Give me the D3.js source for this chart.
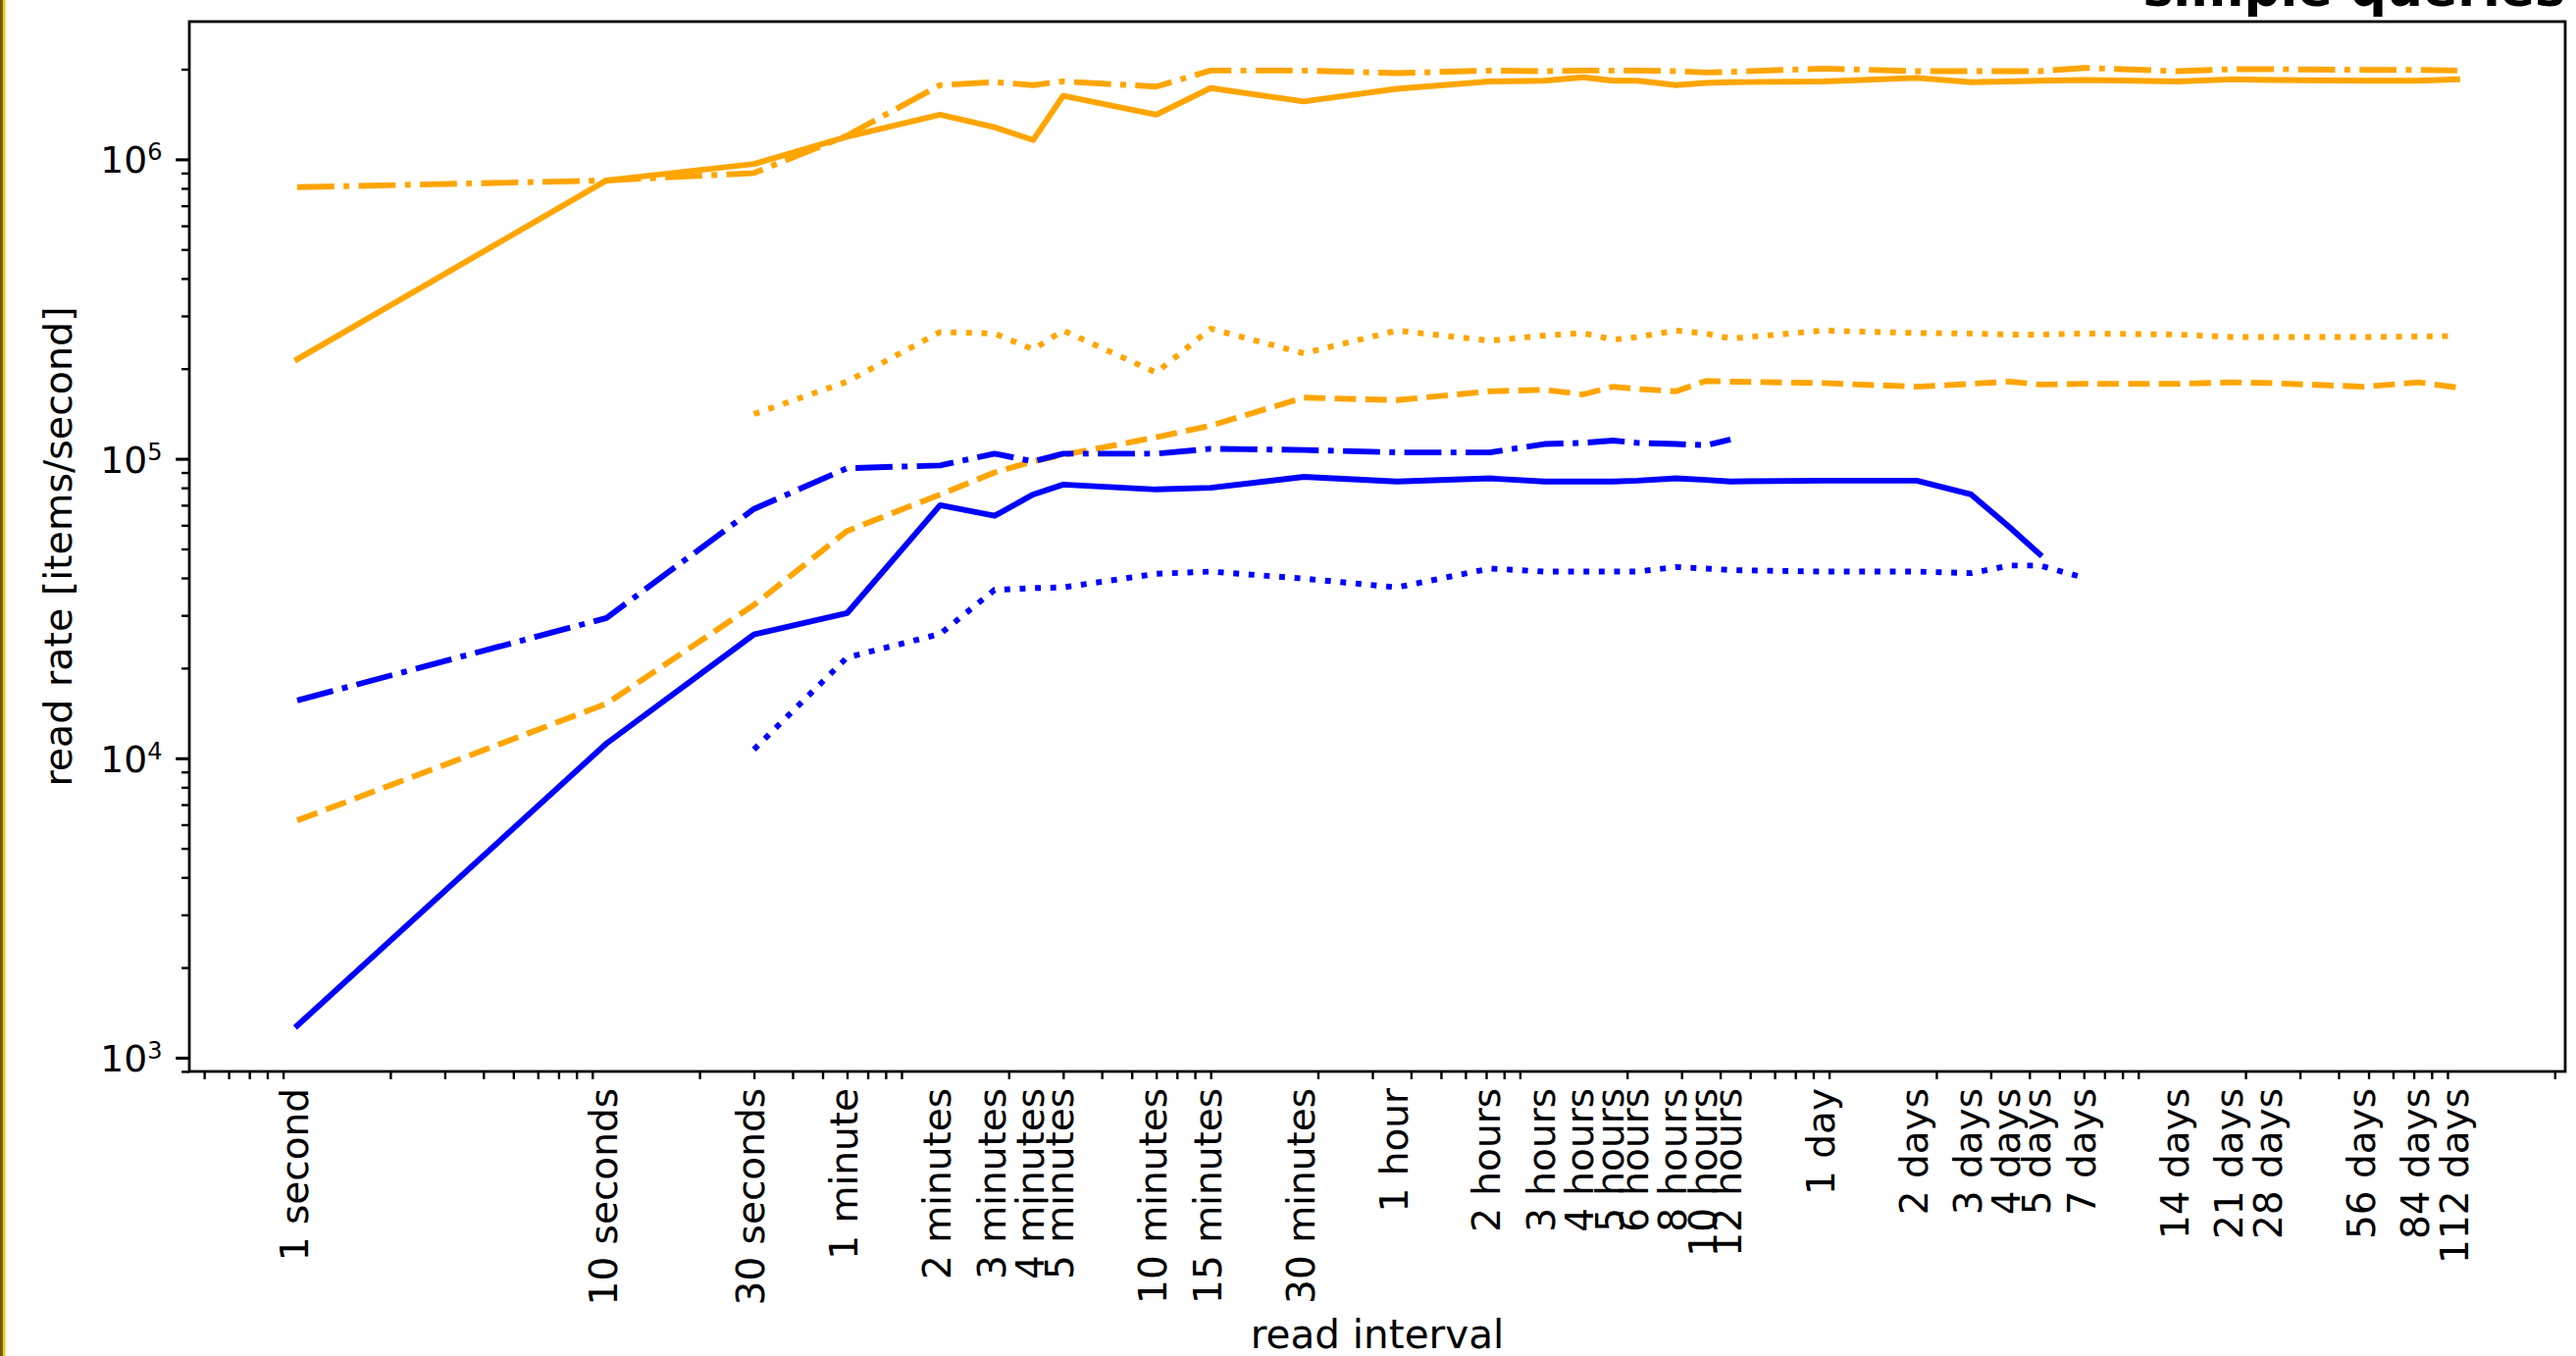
<!DOCTYPE html>
<html>
<head>
<meta charset="utf-8">
<script src="https://cdn.jsdelivr.net/npm/d3@7"></script>
<style>
  body { margin: 0; background: #fff; }
  text { font-family: "DejaVu Sans", sans-serif; fill: #000; }
</style>
</head>
<body>
<div id="chart"></div>
<script>
// read intervals (x axis), in seconds, with their labels
const intervalLabels = [
    "1 second", "10 seconds", "30 seconds", "1 minute", "2 minutes", "3 minutes", "4 minutes", "5 minutes",
    "10 minutes", "15 minutes", "30 minutes", "1 hour", "2 hours", "3 hours", "4 hours", "5 hours",
    "6 hours", "8 hours", "10 hours", "12 hours", "1 day", "2 days", "3 days", "4 days",
    "5 days", "7 days", "14 days", "21 days", "28 days", "56 days", "84 days", "112 days"
];
const intervalSeconds = [
    1, 10, 30, 60, 120, 180, 240, 300,
    600, 900, 1800, 3600, 7200, 10800, 14400, 18000,
    21600, 28800, 36000, 43200, 86400, 172800, 259200, 345600,
    432000, 604800, 1209600, 1814400, 2419200, 4838400, 7257600, 9676800
];

// read rates [items/second], one value per interval (null = not measured)
const orangeSolid = [
    2.15e5, 8.5e5, 9.65e5, 1.19e6, 1.41e6, 1.28e6, 1.16e6, 1.63e6,
    1.41e6, 1.73e6, 1.56e6, 1.72e6, 1.82e6, 1.83e6, 1.88e6, 1.83e6,
    1.83e6, 1.77e6, 1.80e6, 1.81e6, 1.82e6, 1.87e6, 1.81e6, 1.82e6,
    1.83e6, 1.84e6, 1.82e6, 1.85e6, 1.84e6, 1.83e6, 1.83e6, 1.85e6
];
const orangeDashDot = [
    8.07e5, 8.5e5, 9.0e5, 1.2e6, 1.77e6, 1.81e6, 1.77e6, 1.82e6,
    1.75e6, 1.98e6, 1.98e6, 1.94e6, 1.98e6, 1.97e6, 1.98e6, 1.98e6,
    1.98e6, 1.97e6, 1.95e6, 1.96e6, 2.01e6, 1.97e6, 1.97e6, 1.97e6,
    1.97e6, 2.02e6, 1.97e6, 2.0e6, 2.0e6, 1.99e6, 1.99e6, 1.98e6
];
const orangeDotted = [
    null, null, 1.41e5, 1.81e5, 2.65e5, 2.62e5, 2.32e5, 2.68e5,
    1.94e5, 2.72e5, 2.25e5, 2.68e5, 2.48e5, 2.58e5, 2.63e5, 2.5e5,
    2.55e5, 2.68e5, 2.62e5, 2.52e5, 2.68e5, 2.63e5, 2.62e5, 2.6e5,
    2.6e5, 2.62e5, 2.6e5, 2.55e5, 2.55e5, 2.55e5, 2.56e5, 2.57e5
];
const orangeDashed = [
    6.2e3, 1.52e4, 3.25e4, 5.74e4, 7.6e4, 9.0e4, 9.8e4, 1.03e5,
    1.18e5, 1.29e5, 1.6e5, 1.57e5, 1.68e5, 1.70e5, 1.64e5, 1.74e5,
    1.71e5, 1.68e5, 1.82e5, 1.81e5, 1.79e5, 1.74e5, 1.78e5, 1.81e5,
    1.77e5, 1.78e5, 1.78e5, 1.80e5, 1.79e5, 1.74e5, 1.80e5, 1.73e5
];
const blueSolid = [
    1.28e3, 1.12e4, 2.59e4, 3.05e4, 7.0e4, 6.45e4, 7.6e4, 8.2e4,
    7.9e4, 8.0e4, 8.7e4, 8.4e4, 8.6e4, 8.4e4, 8.4e4, 8.4e4,
    8.45e4, 8.6e4, 8.5e4, 8.4e4, 8.45e4, 8.45e4, 7.6e4, 5.9e4,
    4.8e4, null, null, null, null, null, null, null
];
const blueDashDot = [
    1.56e4, 2.94e4, 6.8e4, 9.3e4, 9.5e4, 1.04e5, 9.8e4, 1.04e5,
    1.04e5, 1.08e5, 1.07e5, 1.05e5, 1.05e5, 1.12e5, 1.13e5, 1.15e5,
    1.13e5, 1.12e5, 1.11e5, 1.16e5, null, null, null, null,
    null, null, null, null, null, null, null, null
];
const blueDotted = [
    null, null, 1.07e4, 2.17e4, 2.6e4, 3.65e4, 3.7e4, 3.72e4,
    4.13e4, 4.2e4, 3.98e4, 3.72e4, 4.3e4, 4.2e4, 4.2e4, 4.2e4,
    4.2e4, 4.35e4, 4.3e4, 4.25e4, 4.2e4, 4.2e4, 4.15e4, 4.4e4,
    4.4e4, 4.0e4, null, null, null, null, null, null
];

const yMajorTicks = [1e3, 1e4, 1e5, 1e6];

const W = 2626, H = 1382;
const plotLeft = 193, plotRight = 2615, plotTop = 22, plotBottom = 1092;
const lw = 5.9;

const x = d3.scaleLog().domain([10 ** -0.349, 10 ** 7.335]).range([plotLeft, plotRight]);
const y = d3.scaleLog().domain([10 ** 2.954, 10 ** 6.46]).range([plotBottom, plotTop]);

const svg = d3.select("#chart").append("svg")
    .attr("width", W).attr("height", H)
    .style("display", "block");

svg.append("rect").attr("width", W).attr("height", H).attr("fill", "#fff");

// gold edge on the left side of the picture
svg.append("rect").attr("x", 0).attr("y", 0).attr("width", 5.5).attr("height", H).attr("fill", "#f4c81a");
svg.append("rect").attr("x", 0).attr("y", 0).attr("width", 2.8).attr("height", H).attr("fill", "#6e5716");

const series = [
    { values: orangeSolid, color: "#FFA500", dash: null },
    { values: orangeDashDot, color: "#FFA500", dash: [6.4, 1.6, 1, 1.6] },
    { values: orangeDotted, color: "#FFA500", dash: [1, 1.65] },
    { values: orangeDashed, color: "#FFA500", dash: [3.7, 1.6] },
    { values: blueSolid, color: "#0000FF", dash: null },
    { values: blueDashDot, color: "#0000FF", dash: [6.4, 1.6, 1, 1.6] },
    { values: blueDotted, color: "#0000FF", dash: [1, 1.65] }
];

const line = d3.line()
    .defined(d => d.v != null)
    .x(d => x(d.t))
    .y(d => y(d.v));

series.forEach(s => {
    const pts = intervalSeconds.map((t, i) => ({ t, v: s.values[i] }));
    svg.append("path")
        .datum(pts)
        .attr("d", line)
        .attr("fill", "none")
        .attr("stroke", s.color)
        .attr("stroke-width", lw)
        .attr("stroke-linejoin", "round")
        .attr("stroke-linecap", s.dash ? "butt" : "square")
        .attr("stroke-dasharray", s.dash ? s.dash.map(v => v * lw).join(",") : null);
});

// minor ticks (log 2..9 x 10^k)
const minorX = [], minorY = [];
for (let k = -1; k <= 7; k++) {
    for (let m = 2; m <= 9; m++) {
        const v = m * 10 ** k;
        if (v >= x.domain()[0] && v <= x.domain()[1]) minorX.push(v);
        if (v >= y.domain()[0] && v <= y.domain()[1]) minorY.push(v);
    }
}

const xMinor = svg.append("g")
    .attr("transform", `translate(0,${plotBottom})`)
    .call(d3.axisBottom(x).tickValues(minorX).tickSize(7.9).tickFormat(""));
xMinor.select(".domain").remove();
xMinor.selectAll("line").attr("stroke-width", 2.4);

const yMinor = svg.append("g")
    .attr("transform", `translate(${plotLeft},0)`)
    .call(d3.axisLeft(y).tickValues(minorY).tickSize(7.9).tickFormat(""));
yMinor.select(".domain").remove();
yMinor.selectAll("line").attr("stroke-width", 2.4);

// y major ticks with 10^n labels
const yMajor = svg.append("g")
    .attr("transform", `translate(${plotLeft},0)`)
    .call(d3.axisLeft(y).tickValues(yMajorTicks).tickSize(13.8).tickFormat(""));
yMajor.select(".domain").remove();
yMajor.selectAll("line").attr("stroke-width", 3.1);
yMajor.selectAll(".tick text").remove();
yMajor.selectAll(".tick").append("text")
    .attr("x", -27.6)
    .attr("y", 13.5)
    .attr("text-anchor", "end")
    .style("font-size", "37.6px")
    .each(function (d) {
        const t = d3.select(this);
        t.append("tspan").text("10");
        t.append("tspan").attr("dy", -13).style("font-size", "24px").text(Math.round(Math.log10(d)));
    });

// x labelled ticks (no tick marks), rotated labels
const xMajor = svg.append("g")
    .attr("transform", `translate(0,${plotBottom})`)
    .call(d3.axisBottom(x).tickValues(intervalSeconds).tickSize(0)
        .tickFormat((d, i) => intervalLabels[i]));
xMajor.select(".domain").remove();
xMajor.selectAll(".tick line").remove();
xMajor.selectAll(".tick text")
    .attr("y", 0)
    .attr("dy", "0.26em")
    .attr("transform", "translate(0,17) rotate(-90)")
    .attr("text-anchor", "end")
    .attr("fill", "#000")
    .style("font-family", "DejaVu Sans")
    .style("font-size", "39px");

// frame
svg.append("rect")
    .attr("x", plotLeft).attr("y", plotTop)
    .attr("width", plotRight - plotLeft).attr("height", plotBottom - plotTop)
    .attr("fill", "none")
    .attr("stroke", "#000")
    .attr("stroke-width", 2.8);

// axis labels
svg.append("text")
    .attr("x", (plotLeft + plotRight) / 2)
    .attr("y", 1374)
    .attr("text-anchor", "middle")
    .style("font-size", "40.5px")
    .text("read interval");

svg.append("text")
    .attr("transform", `translate(73,${(plotTop + plotBottom) / 2}) rotate(-90)`)
    .attr("text-anchor", "middle")
    .style("font-size", "39.5px")
    .text("read rate [items/second]");

// title, mostly cut off at the top edge of the picture
svg.append("text")
    .attr("x", plotRight)
    .attr("y", 6)
    .attr("text-anchor", "end")
    .style("font-size", "52px")
    .style("font-weight", "bold")
    .text("simple queries");
</script>
</body>
</html>
